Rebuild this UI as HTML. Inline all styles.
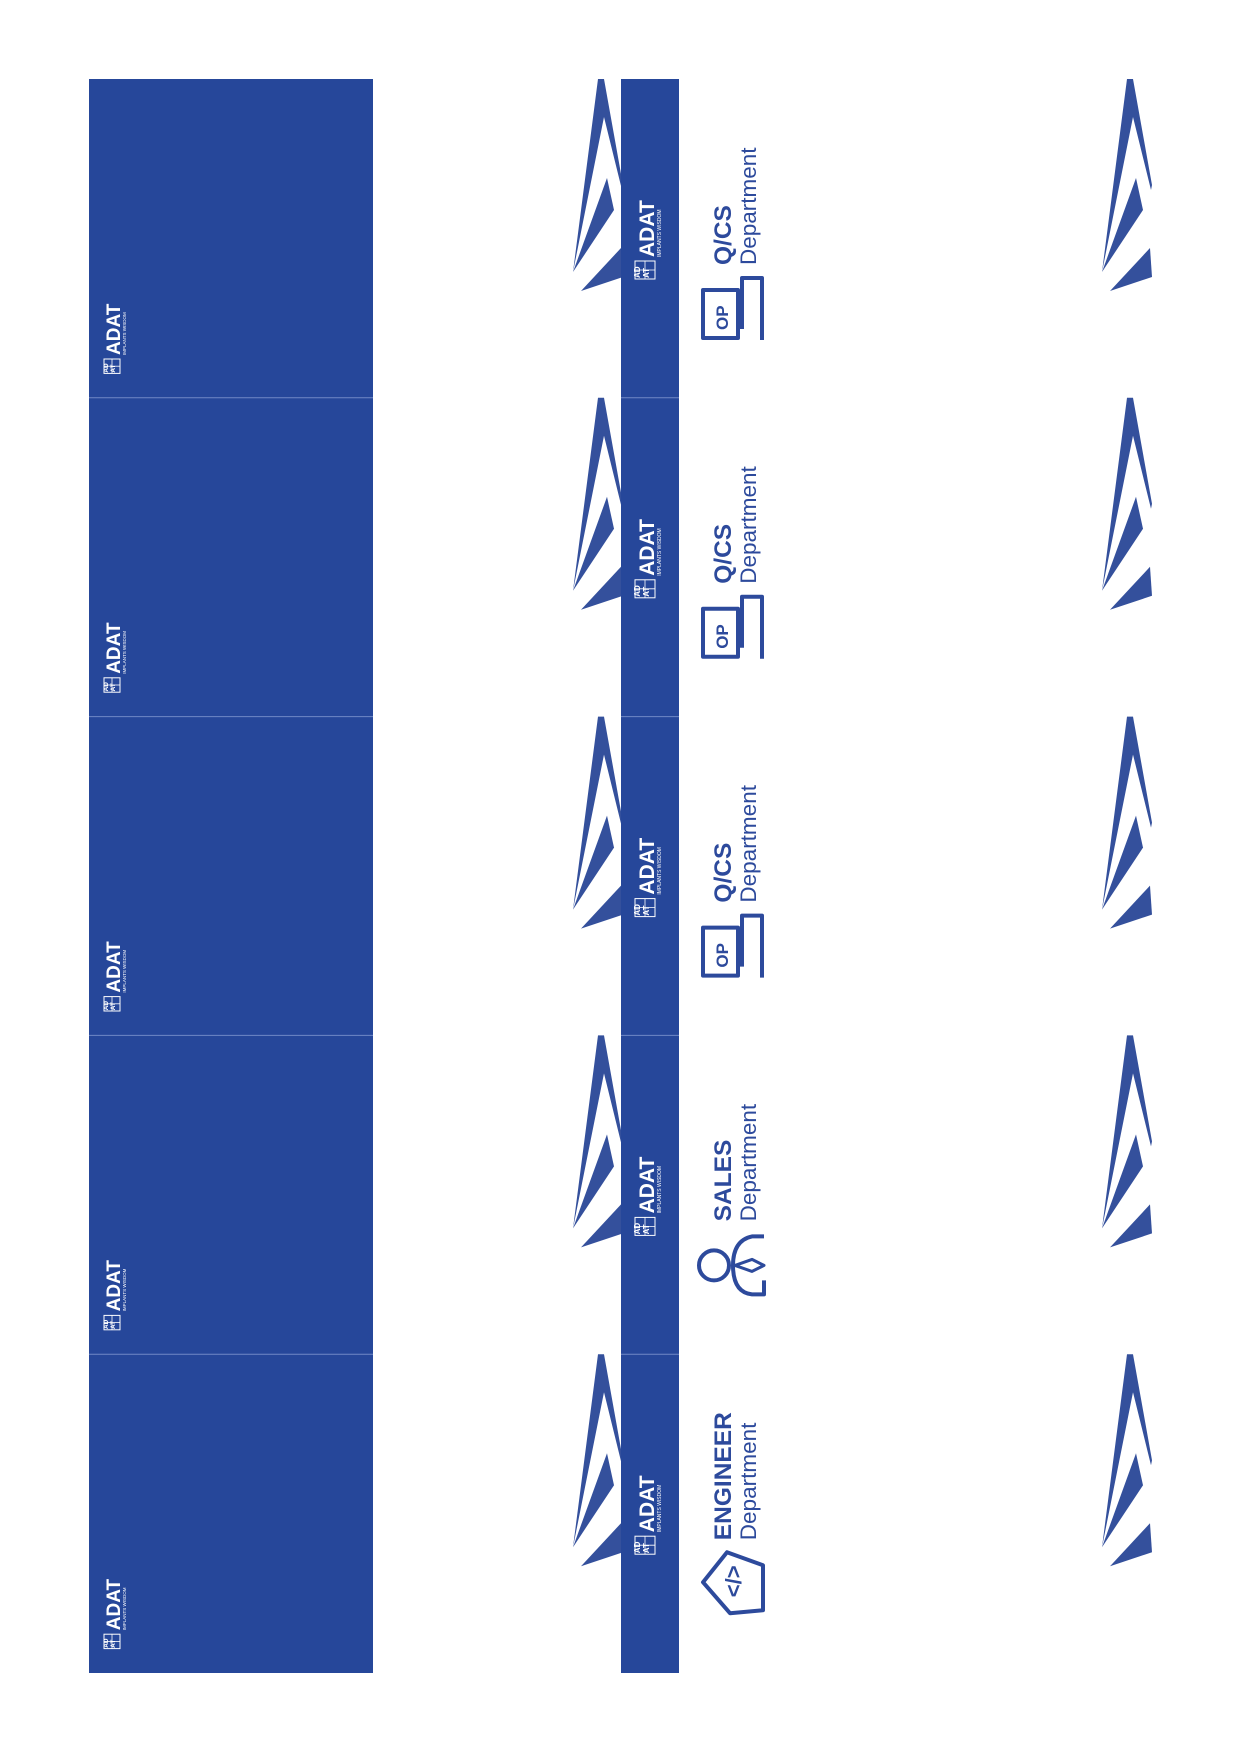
<!DOCTYPE html>
<html><head><meta charset="utf-8">
<style>
html,body{margin:0;padding:0;background:#fff;}
svg{display:block;}
text{font-family:"Liberation Sans",sans-serif;}
</style></head>
<body>
<svg id="pg" width="1241" height="1754" viewBox="0 0 1241 1754" xmlns="http://www.w3.org/2000/svg">
<rect x="89" y="79" width="284" height="1594" fill="#26479a"/>
<g id="sails"></g>
<rect x="621" y="79" width="58" height="1594" fill="#26479a"/>
<g id="segs"></g>
</svg>
<script>
const segmentTops=[79,397.8,716.6,1035.4,1354.2];
const deptTitles=["Q/CS","Q/CS","Q/CS","SALES","ENGINEER"];
const deptIcons=["op","op","op","sales","eng"];
const NS="http://www.w3.org/2000/svg";
const sails=document.getElementById('sails'),segs=document.getElementById('segs');
function mk(tag,attrs,parent){const e=document.createElementNS(NS,tag);for(const k in attrs)e.setAttribute(k,attrs[k]);parent.appendChild(e);return e;}
const sailShapes=[[[0,0],[6,0],[25,106],[24,111],[6,38],[-25,193]],[[9,99],[16,131],[-25,193]],[[23,169],[25,198],[-17,212]]];
function drawSail(bx,T,name){
  const g=mk('g',{},sails);
  
  
  sailShapes.forEach(s=>{mk('polygon',{points:s.map(p=>(bx+p[0])+','+(T+p[1])).join(' '),fill:'#34509c'},g);});
}
function logo(x,y,parent,s){
  const g=mk('g',{},parent);
  
  
  mk('rect',{x:x,y:y,width:20*s,height:18*s,fill:'none',stroke:'#fff','stroke-width':1},g);
  mk('line',{x1:x+10*s,y1:y,x2:x+10*s,y2:y+18*s,stroke:'#fff','stroke-width':0.8},g);
  mk('line',{x1:x,y1:y+9*s,x2:x+20*s,y2:y+9*s,stroke:'#fff','stroke-width':0.8},g);
  const t=mk('text',{x:x+5*s,y:y+17*s,fill:'#fff','font-size':8*s,'font-weight':'bold',transform:`rotate(-90 ${x+5*s} ${y+17*s})`},g);t.textContent='AD';
  const t2=mk('text',{x:x+14*s,y:y+17*s,fill:'#fff','font-size':8*s,'font-weight':'bold',transform:`rotate(-90 ${x+14*s} ${y+17*s})`},g);t2.textContent='AT';
}
function vtext(x,y,str,size,weight,fill,parent,name){
  const t=mk('text',{x:x,y:y,fill:fill,'font-size':size,'font-weight':weight,transform:`rotate(-90 ${x} ${y})`},parent);
  
  
  t.textContent=str;return t;
}
segmentTops.forEach((T,i)=>{
  drawSail(598,T,'sail-left-'+(i+1));
  drawSail(1127,T,'sail-right-'+(i+1));
  const g=mk('g',{},segs);
  
  
  if(i>0){
    mk('line',{x1:89,y1:T,x2:373,y2:T,stroke:'#7088c6','stroke-width':1},g);
    mk('line',{x1:621,y1:T,x2:679,y2:T,stroke:'#7088c6','stroke-width':1},g);
  }
  vtext(120,T+276,'ADAT',19,'bold','#fff',g,'panel-brand-adat');
  vtext(126,T+276,'IMPLANTS  WISDOM',4.5,'normal','#fff',g,'panel-brand-tagline');
  logo(104,T+280,g,0.8);
  vtext(654,T+178,'ADAT',21,'bold','#fff',g,'spine-brand-adat');
  vtext(661,T+178,'IMPLANTS  WISDOM',5,'normal','#fff',g,'spine-brand-tagline');
  logo(635,T+182,g,1);
  vtext(731,T+186,deptTitles[i],24.5,'bold','#2d4a9c',g,'department-title');
  vtext(756,T+186,'Department',22.5,'normal','#2d4a9c',g,'department-subtitle');
  const ic=mk('g',{fill:'none',stroke:'#2d4a9c','stroke-width':4,'stroke-linejoin':'round'},g);
  
  
  if(deptIcons[i]==='op'){
    mk('rect',{x:703,y:T+211,width:35,height:48},ic);
    mk('path',{d:`M742 ${T+250} V${T+199} H762 V${T+261}`},ic);
    const t=mk('text',{x:728,y:T+251,fill:'#2d4a9c',stroke:'none','font-size':17,'font-weight':'bold',transform:`rotate(-90 728 ${T+251})`},ic);t.textContent='OP';
  }else if(deptIcons[i]==='sales'){
    mk('circle',{cx:714,cy:T+230,r:15},ic);
    mk('path',{d:`M764 ${T+201} H752 Q733 ${T+205} 733 ${T+230} Q733 ${T+257} 752 ${T+259} H764 V${T+245}`},ic);
    mk('path',{d:`M735 ${T+230} L752 ${T+224} L764 ${T+230} L752 ${T+236} Z`,'stroke-width':3},ic);
  }else{
    mk('polygon',{points:`703,${T+228} 727,${T+198} 763,${T+211} 763,${T+256} 730,${T+259}`},ic);
    const t=mk('text',{x:741,y:T+243,fill:'#2d4a9c',stroke:'none','font-size':22,'font-weight':'bold',transform:`rotate(-90 741 ${T+243})`},ic);t.textContent='</>';
  }
});
</script>
</body></html>
